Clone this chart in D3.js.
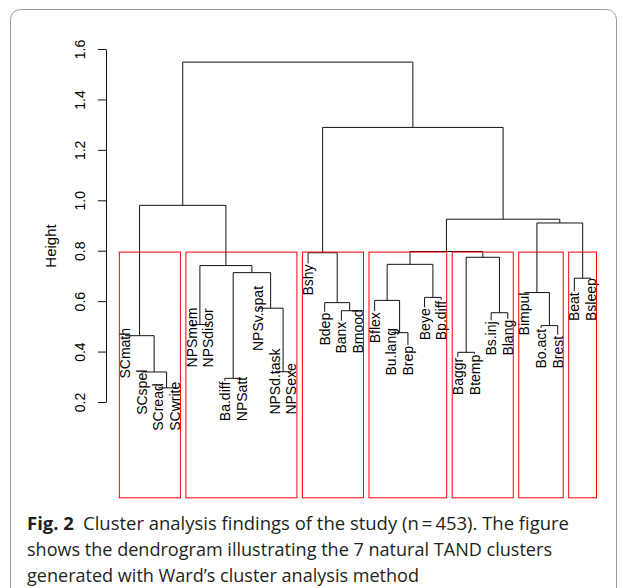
<!DOCTYPE html>
<html>
<head>
<meta charset="utf-8">
<script src="https://cdnjs.cloudflare.com/ajax/libs/d3/7.8.5/d3.min.js"></script>
<style>
  body { margin: 0; background: #fff; }
  svg { display: block; }
</style>
</head>
<body>
<svg id="dendro"></svg>
<script>
const width = 627;
const height = 588;

// leaf order as drawn, left to right
const leaves = ['SCmath', 'SCspel', 'SCread', 'SCwrite',
    'NPSmem', 'NPSdisor', 'Ba.diff', 'NPSatt', 'NPSv.spat', 'NPSd.task', 'NPSexe',
    'Bshy', 'Bdep', 'Banx', 'Bmood',
    'Bflex', 'Bu.lang', 'Brep', 'Beye', 'Bp.diff',
    'Baggr', 'Btemp', 'Bs.inj', 'Blang',
    'Bimpul', 'Bo.act', 'Brest',
    'Beat', 'Bsleep'];

// R style merge table: negative = leaf number (1-based), positive = earlier merge
const merges = [[-3, -4], [-2, 1], [-1, 2], [-5, -6], [-7, -8], [-10, -11], [-9, 6], [5, 7], [4, 8], [3, 9],
    [-14, -15], [-13, 11], [-12, 12], [-17, -18], [-16, 14], [-19, -20], [15, 16], [-21, -22], [-23, -24],
    [18, 19], [17, 20], [-26, -27], [-25, 22], [-28, -29], [23, 24], [21, 25], [13, 26], [10, 27]];
const heights = [0.256, 0.319, 0.463, 0.507, 0.294, 0.320, 0.572, 0.713, 0.741, 0.980,
    0.562, 0.594, 0.792, 0.475, 0.603, 0.615, 0.746, 0.397, 0.554, 0.774,
    0.797, 0.503, 0.634, 0.691, 0.910, 0.925, 1.289, 1.548];

const clusterSizes = [4, 7, 4, 5, 4, 3, 2];
const yTicks = [0.2, 0.4, 0.6, 0.8, 1.0, 1.2, 1.4, 1.6];
const hang = 0.17;
const yMin = -0.18;

const captionBold = 'Fig. 2';
const captionLines = [
    'Cluster analysis findings of the study (n\u2009=\u2009453). The figure',
    'shows the dendrogram illustrating the 7 natural TAND clusters',
    'generated with Ward\u2019s cluster analysis method'
];

const svg = d3.select('#dendro')
    .attr('width', width)
    .attr('height', height);

const x = d3.scaleLinear().domain([1, leaves.length]).range([125, 591]);
const y = d3.scaleLinear().domain([0.2, 1.6]).range([402, 49]);

// outer panel frame
svg.append('rect')
    .attr('x', 10.5).attr('y', 9.5)
    .attr('width', 606).attr('height', 610)
    .attr('rx', 10)
    .attr('fill', 'none')
    .attr('stroke', '#9b9b9b');

// positions of merges
const nodes = merges.map(() => ({}));
const leafParent = [];
merges.forEach((m, i) => {
    const xs = m.map(c => c < 0 ? x(-c) : nodes[c - 1].x);
    nodes[i].x = d3.mean(xs);
    nodes[i].h = heights[i];
    m.forEach(c => { if (c < 0) leafParent[-c - 1] = heights[i]; });
});

// leaf labels
const labelG = svg.append('g')
    .attr('font-family', '"Liberation Sans", Arial, sans-serif')
    .attr('font-size', 14)
    .attr('fill', '#000');

const labelTop = [];
leaves.forEach((name, i) => {
    const lx = x(i + 1);
    const ly = y(leafParent[i] - hang);
    const t = labelG.append('text')
        .attr('transform', `translate(${lx},${ly}) rotate(-90)`)
        .attr('text-anchor', 'start')
        .attr('dy', '0.36em')
        .text(name);
    labelTop[i] = ly - t.node().getComputedTextLength() - 1;
});

// dendrogram branches
const branchG = svg.append('g')
    .attr('fill', 'none')
    .attr('stroke', '#111')
    .attr('stroke-width', 1);

merges.forEach((m, i) => {
    const yh = y(heights[i]);
    const pts = m.map(c => {
        if (c < 0) return [x(-c), Math.max(labelTop[-c - 1], yh)];
        return [nodes[c - 1].x, y(nodes[c - 1].h)];
    });
    branchG.append('path')
        .attr('d', `M${pts[0][0]},${pts[0][1]}V${yh}H${pts[1][0]}V${pts[1][1]}`);
});

// red cluster rectangles (like rect.hclust)
const sorted = heights.slice().sort((a, b) => b - a);
const k = clusterSizes.length;
const cut = (sorted[k - 2] + sorted[k - 1]) / 2;
let start = 0;
clusterSizes.forEach(n => {
    const left = x(start + 0.66);
    const right = x(start + n + 0.33);
    svg.append('rect')
        .attr('x', left).attr('y', y(cut))
        .attr('width', right - left)
        .attr('height', y(yMin) - y(cut))
        .attr('fill', 'none')
        .attr('stroke', '#ff0000')
        .attr('stroke-width', 1);
    start += n;
});

// y axis
const yAxis = svg.append('g')
    .attr('transform', 'translate(106,0)')
    .call(d3.axisLeft(y).tickValues(yTicks).tickSize(8).tickSizeOuter(0).tickFormat(d3.format('.1f')));
yAxis.selectAll('path, line').attr('stroke', '#111');
yAxis.selectAll('text')
    .attr('font-family', '"Liberation Sans", Arial, sans-serif')
    .attr('font-size', 14)
    .attr('fill', '#000')
    .attr('text-anchor', 'middle')
    .attr('x', 0).attr('dy', 0)
    .attr('y', -21)
    .attr('transform', 'rotate(-90)');

svg.append('text')
    .attr('transform', 'translate(56,246) rotate(-90)')
    .attr('text-anchor', 'middle')
    .attr('font-family', '"Liberation Sans", Arial, sans-serif')
    .attr('font-size', 15)
    .text('Height');

// caption
const capG = svg.append('g')
    .attr('font-family', '"Open Sans", "Noto Sans", sans-serif')
    .attr('font-size', 18)
    .attr('fill', '#231f20');
const capWidths = [542, 525, 392];
captionLines.forEach((line, i) => {
    const t = capG.append('text')
        .attr('x', 27)
        .attr('y', 530 + i * 26)
        .attr('textLength', capWidths[i])
        .attr('lengthAdjust', 'spacingAndGlyphs');
    if (i === 0) {
        t.append('tspan').attr('font-weight', 'bold').text(captionBold);
        t.append('tspan').text('\u2002' + line);
    } else {
        t.text(line);
    }
});
</script>
</body>
</html>
